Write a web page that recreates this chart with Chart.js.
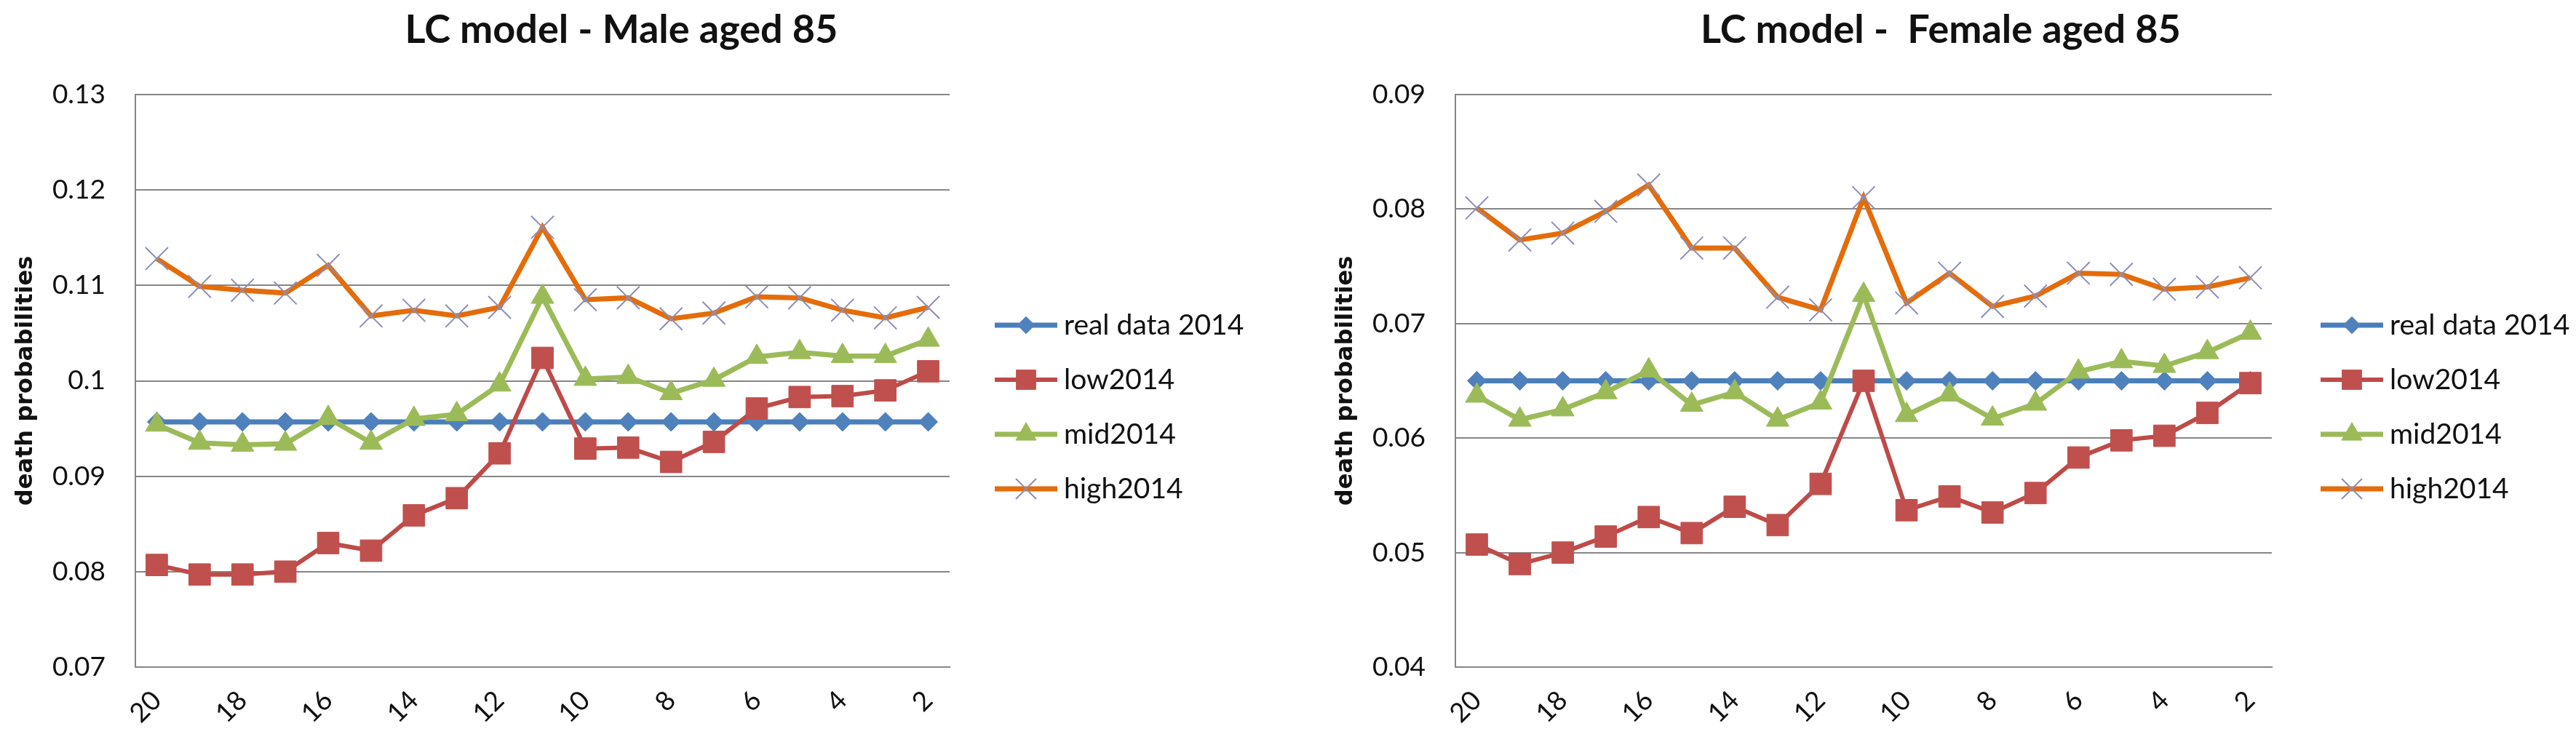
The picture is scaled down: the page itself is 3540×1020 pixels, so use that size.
<!DOCTYPE html>
<html>
<head>
<meta charset="utf-8">
<title>LC model - death probabilities aged 85</title>
<script src="https://cdn.jsdelivr.net/npm/chart.js@4.4.1/dist/chart.umd.min.js"></script>
<style>
    body { margin: 0; background: #fff; }
    .wrap { position: relative; width: 3540px; height: 1020px; }
    canvas { position: absolute; top: 0; }
    #male { left: 0; }
    #female { left: 1770px; }
</style>
</head>
<body>
<div class="wrap">
    <canvas id="male" width="1770" height="1020"></canvas>
    <canvas id="female" width="1770" height="1020"></canvas>
</div>

<script>
    // years before 2014 (x axis categories)
    var horizon = ['20','19','18','17','16','15','14','13','12','11','10','9','8','7','6','5','4','3','2'];
    var seriesNames = ['real data 2014', 'low2014', 'mid2014', 'high2014'];

    // male aged 85
    var maleReal = [0.0957,0.0957,0.0957,0.0957,0.0957,0.0957,0.0957,0.0957,0.0957,0.0957,0.0957,0.0957,0.0957,0.0957,0.0957,0.0957,0.0957,0.0957,0.0957];
    var maleLow  = [0.0807,0.0797,0.0797,0.0800,0.0830,0.0822,0.0859,0.0877,0.0924,0.1024,0.0929,0.0930,0.0915,0.0936,0.0971,0.0983,0.0984,0.0990,0.1010];
    var maleMid  = [0.0954,0.0935,0.0933,0.0934,0.0961,0.0935,0.0960,0.0965,0.0996,0.1088,0.1002,0.1004,0.0987,0.1001,0.1025,0.1030,0.1026,0.1026,0.1043];
    var maleHigh = [0.1128,0.1099,0.1095,0.1092,0.1121,0.1068,0.1074,0.1068,0.1077,0.1161,0.1085,0.1087,0.1065,0.1071,0.1088,0.1087,0.1074,0.1066,0.1077];
    var maleTicks = [0.07, 0.08, 0.09, 0.1, 0.11, 0.12, 0.13];

    // female aged 85
    var femaleReal = [0.0650,0.0650,0.0650,0.0650,0.0650,0.0650,0.0650,0.0650,0.0650,0.0650,0.0650,0.0650,0.0650,0.0650,0.0650,0.0650,0.0650,0.0650,0.0650];
    var femaleLow  = [0.0507,0.0490,0.0500,0.0514,0.0531,0.0517,0.0540,0.0524,0.0560,0.0650,0.0537,0.0549,0.0535,0.0552,0.0583,0.0598,0.0602,0.0622,0.0648];
    var femaleMid  = [0.0637,0.0616,0.0625,0.0640,0.0659,0.0629,0.0640,0.0616,0.0631,0.0725,0.0620,0.0638,0.0617,0.0630,0.0658,0.0667,0.0663,0.0675,0.0692];
    var femaleHigh = [0.0801,0.0773,0.0779,0.0798,0.0821,0.0766,0.0766,0.0723,0.0712,0.0810,0.0718,0.0744,0.0715,0.0724,0.0744,0.0743,0.0730,0.0732,0.0740];
    var femaleTicks = [0.04, 0.05, 0.06, 0.07, 0.08, 0.09];

    var GRID = '#868686';
    var TEXT = '#111';

    // title + excel-like legend (line with marker), drawn after the chart
    var decor = {
        id: 'decor',
        afterDraw: function(chart, args, opts) {
            var ctx = chart.ctx;
            ctx.save();
            ctx.fillStyle = TEXT;
            ctx.font = 'bold 54px Lato';
            ctx.textAlign = 'center';
            ctx.textBaseline = 'middle';
            ctx.fillText(opts.title, opts.titleX, 42);

            chart.data.datasets.forEach(function(ds, i) {
                var y = opts.legendY + i * 75;
                var x = opts.legendX;
                ctx.strokeStyle = ds.borderColor;
                ctx.lineWidth = ds.borderWidth;
                ctx.beginPath();
                ctx.moveTo(x, y);
                ctx.lineTo(x + 86, y);
                ctx.stroke();

                ctx.fillStyle = ds.pointBackgroundColor;
                ctx.strokeStyle = ds.pointBorderColor;
                ctx.lineWidth = ds.pointBorderWidth;
                Chart.helpers.drawPoint(ctx, {
                    pointStyle: ds.pointStyle,
                    radius: ds.pointRadius * 0.9,
                    rotation: 0,
                    borderWidth: ds.pointBorderWidth
                }, x + 43, y);

                ctx.fillStyle = TEXT;
                ctx.font = '39px Lato';
                ctx.textAlign = 'left';
                ctx.fillText(ds.label, x + 95, y);
            });
            ctx.restore();
        }
    };

    function buildSets(real, low, mid, high) {
        return [{
            label: seriesNames[0], data: real, order: 4,
            borderColor: '#4A7EBB', borderWidth: 7,
            pointStyle: 'rectRot', pointRadius: 13,
            pointBackgroundColor: '#4F81BD', pointBorderColor: '#4F81BD', pointBorderWidth: 1
        }, {
            label: seriesNames[1], data: low, order: 3,
            borderColor: '#BE4B48', borderWidth: 6,
            pointStyle: 'rect', pointRadius: 21,
            pointBackgroundColor: '#C0504D', pointBorderColor: '#C0504D', pointBorderWidth: 1
        }, {
            label: seriesNames[2], data: mid, order: 2,
            borderColor: '#9BBB59', borderWidth: 7,
            pointStyle: 'triangle', pointRadius: 18,
            pointBackgroundColor: '#9BBB59', pointBorderColor: '#9BBB59', pointBorderWidth: 1
        }, {
            label: seriesNames[3], data: high, order: 1,
            borderColor: '#E46C0A', borderWidth: 7,
            pointStyle: 'crossRot', pointRadius: 22,
            pointBackgroundColor: '#8C8FB8', pointBorderColor: '#8C8FB8', pointBorderWidth: 2
        }];
    }

    function makeChart(id, sets, yTicks, cfg) {
        var ctx = document.getElementById(id).getContext('2d');
        return new Chart(ctx, {
            type: 'line',
            data: { labels: horizon, datasets: sets },
            options: {
                responsive: false,
                animation: false,
                devicePixelRatio: 1,
                elements: { line: { tension: 0 } },
                layout: { padding: { left: cfg.padLeft, right: cfg.padRight, top: 130, bottom: 0 } },
                plugins: {
                    legend: { display: false },
                    title: { display: false },
                    tooltip: { enabled: false },
                    decor: { title: cfg.title, titleX: cfg.titleX, legendX: cfg.legendX, legendY: 447 }
                },
                scales: {
                    x: {
                        offset: true,
                        grid: { display: false, drawTicks: false },
                        border: { display: true, color: GRID, width: 2 },
                        ticks: {
                            autoSkip: false, minRotation: 45, maxRotation: 45, padding: 24,
                            color: TEXT, font: { family: 'Lato', size: 37 },
                            callback: function(v, i) { return i % 2 === 0 ? this.getLabelForValue(v) : ''; }
                        },
                        afterFit: function(s) { s.height = 103; }
                    },
                    y: {
                        min: yTicks[0],
                        max: yTicks[yTicks.length - 1],
                        afterBuildTicks: function(s) { s.ticks = yTicks.map(function(v) { return { value: v }; }); },
                        grid: { color: GRID, lineWidth: 2, drawTicks: false },
                        border: { display: true, color: GRID, width: 2 },
                        ticks: {
                            padding: 41, color: TEXT, font: { family: 'Lato', size: 37 },
                            callback: function(v) { return String(v); }
                        },
                        title: {
                            display: true, text: 'death probabilities', color: TEXT,
                            font: { family: 'DejaVu Sans', size: 32, weight: 'bold' },
                            padding: { top: 16, bottom: 0 }
                        },
                        afterFit: function(s) { s.width = 186; }
                    }
                }
            },
            plugins: [decor]
        });
    }

    window.onload = function() {
        makeChart('male', buildSets(maleReal, maleLow, maleMid, maleHigh), maleTicks, {
            padLeft: 0, padRight: 465, title: 'LC model - Male aged 85', titleX: 854, legendX: 1367
        });
        makeChart('female', buildSets(femaleReal, femaleLow, femaleMid, femaleHigh), femaleTicks, {
            padLeft: 44, padRight: 418, title: 'LC model -  Female aged 85', titleX: 897, legendX: 1419
        });
    };
</script>
</body>
</html>
